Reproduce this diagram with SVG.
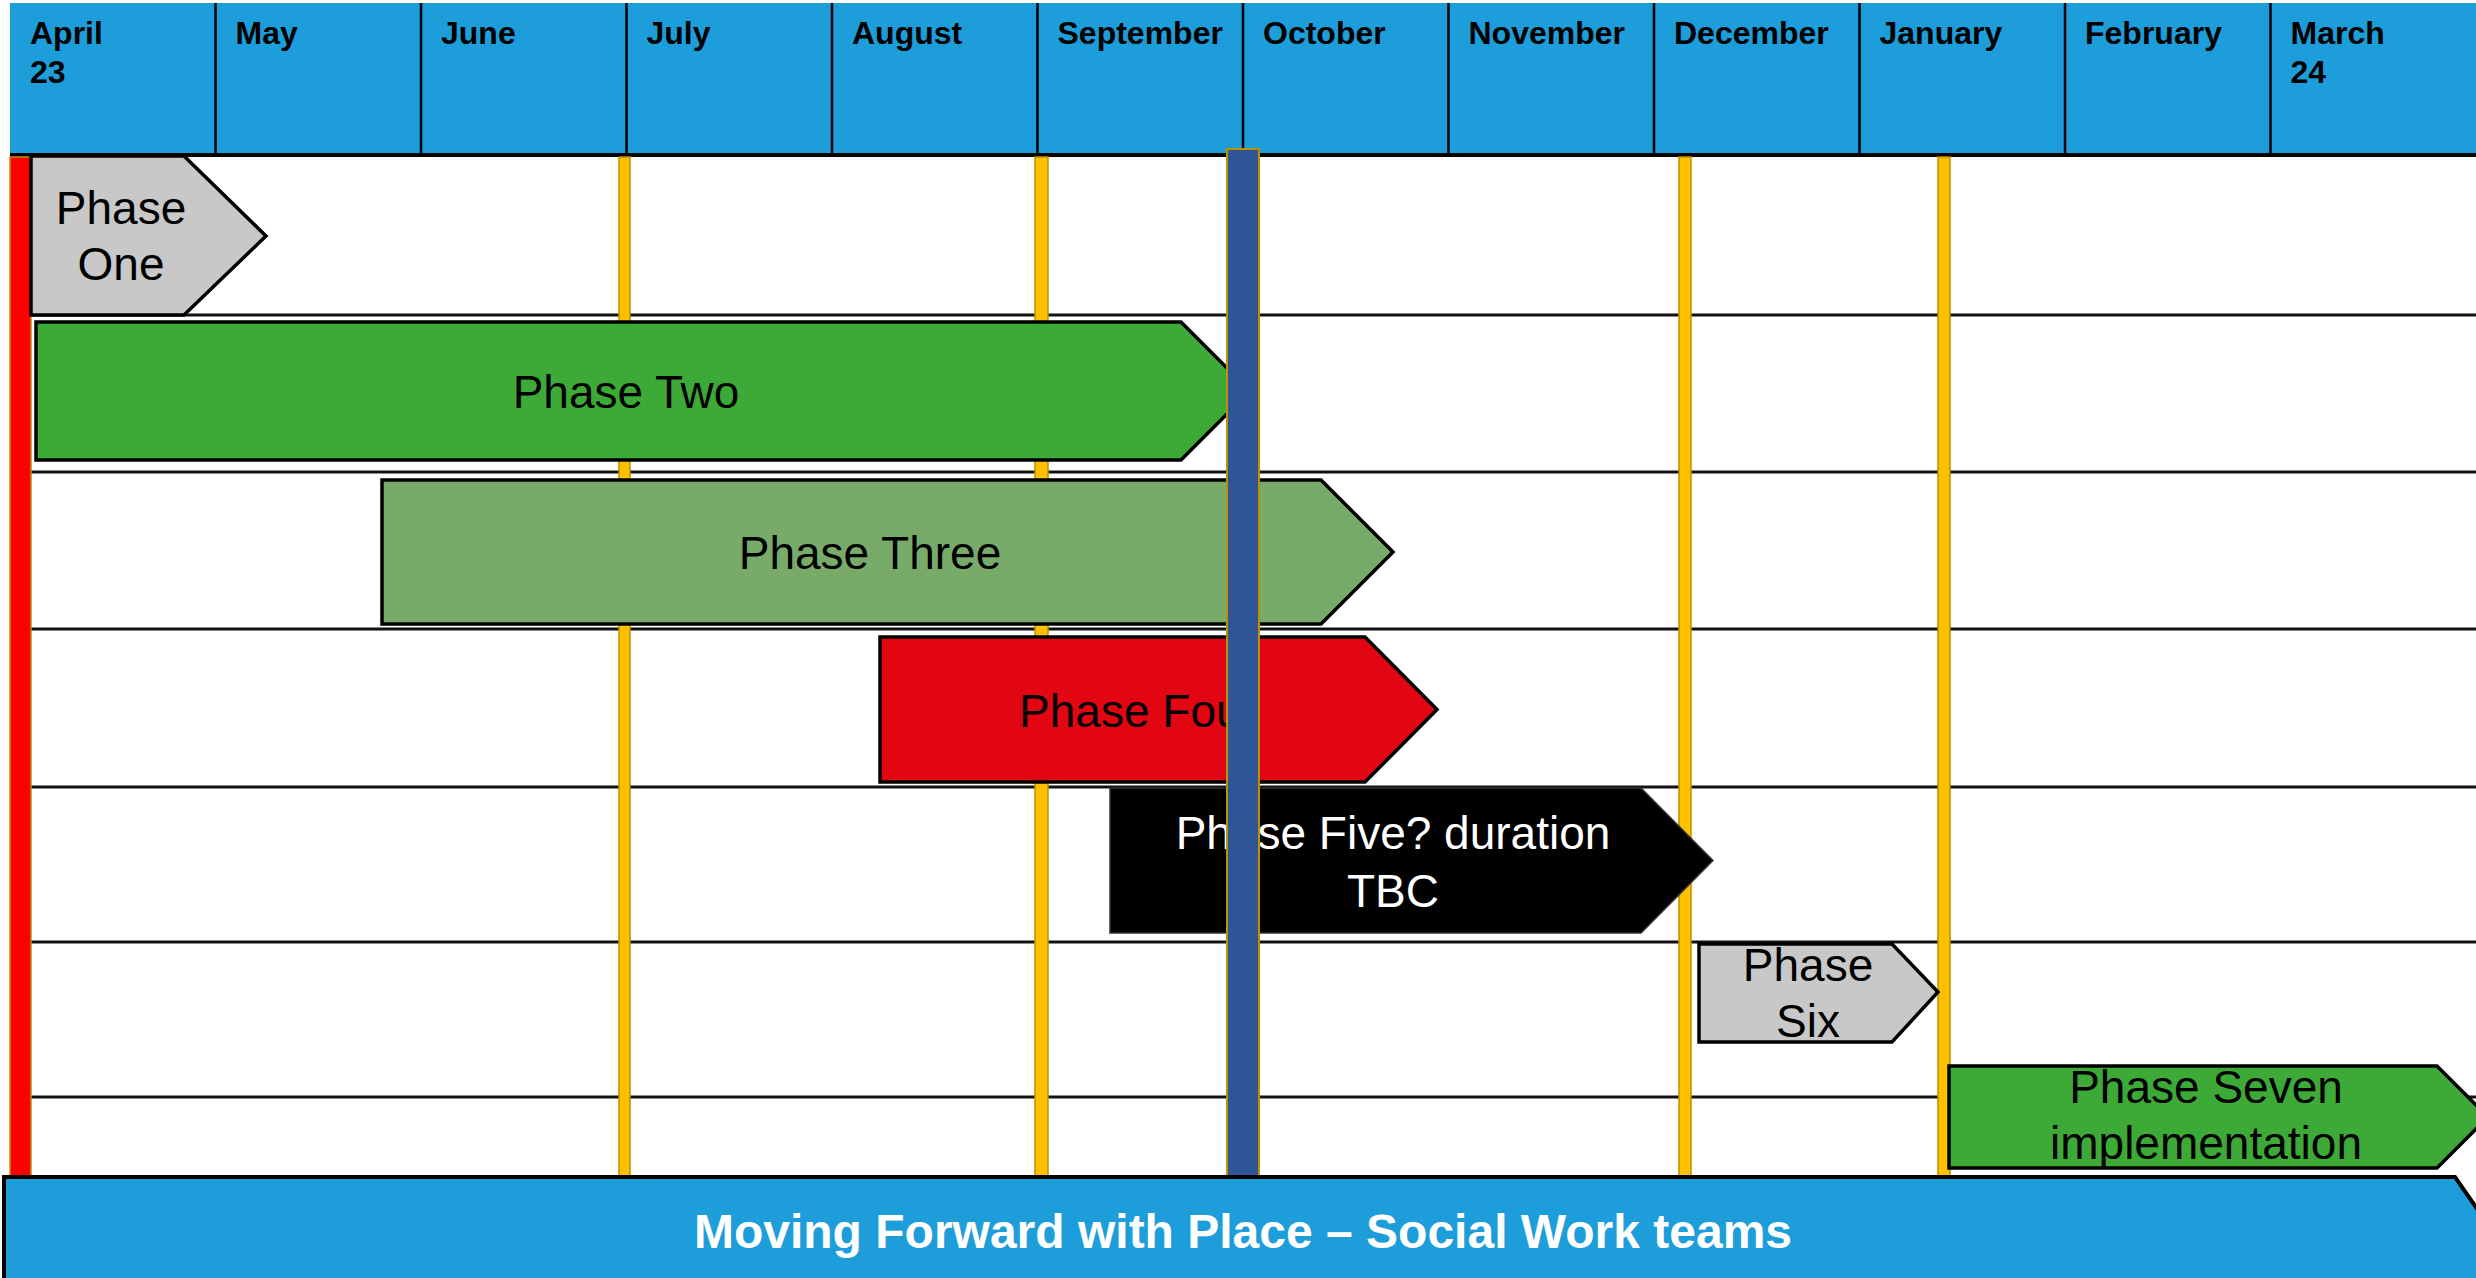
<svg xmlns="http://www.w3.org/2000/svg" width="2476" height="1278" viewBox="0 0 2476 1278">
<style>
.month{font-family:"Liberation Sans",Arial,sans-serif;font-weight:bold;font-size:32px;fill:#000}
.div{stroke:#000;stroke-width:2.5}
.row{stroke:#111;stroke-width:3}
.ph{stroke:#000;stroke-width:3.5;stroke-linejoin:miter}
.pt{font-family:"Liberation Sans",Arial,sans-serif;font-size:46px;fill:#000;text-anchor:middle}
.yb{fill:#FFC000;stroke:#BF9000;stroke-width:1.5}
</style>
<rect width="2476" height="1278" fill="#fff"/>
<g id="header">
<rect x="10" y="3" width="2466" height="151" fill="#1D9DD9"/>
<g class="div">
<line x1="215.5" y1="3" x2="215.5" y2="154"/><line x1="421" y1="3" x2="421" y2="154"/><line x1="626.5" y1="3" x2="626.5" y2="154"/><line x1="832" y1="3" x2="832" y2="154"/><line x1="1037.5" y1="3" x2="1037.5" y2="154"/><line x1="1243" y1="3" x2="1243" y2="154"/><line x1="1448.5" y1="3" x2="1448.5" y2="154"/><line x1="1654" y1="3" x2="1654" y2="154"/><line x1="1859.5" y1="3" x2="1859.5" y2="154"/><line x1="2065" y1="3" x2="2065" y2="154"/><line x1="2270.5" y1="3" x2="2270.5" y2="154"/>
</g>
<text class="month" x="30" y="44">April</text><text class="month" x="30" y="83">23</text>
<text class="month" x="235.5" y="44">May</text>
<text class="month" x="441" y="44">June</text>
<text class="month" x="646.5" y="44">July</text>
<text class="month" x="852" y="44">August</text>
<text class="month" x="1057.5" y="44">September</text>
<text class="month" x="1263" y="44">October</text>
<text class="month" x="1468.5" y="44">November</text>
<text class="month" x="1674" y="44">December</text>
<text class="month" x="1879.5" y="44">January</text>
<text class="month" x="2085" y="44">February</text>
<text class="month" x="2290.5" y="44">March</text><text class="month" x="2290.5" y="83">24</text>
</g>
<g id="grid">
<line x1="10" y1="155" x2="2476" y2="155" stroke="#000" stroke-width="4"/>
<line class="row" x1="10" y1="315" x2="2476" y2="315"/>
<line class="row" x1="10" y1="472" x2="2476" y2="472"/>
<line class="row" x1="10" y1="629" x2="2476" y2="629"/>
<line class="row" x1="10" y1="787" x2="2476" y2="787"/>
<line class="row" x1="10" y1="942" x2="2476" y2="942"/>
<line class="row" x1="10" y1="1097" x2="2476" y2="1097"/>
</g>
<g id="markers">
<rect id="start-marker" x="10" y="157" width="21" height="1019" fill="#FF0000" stroke="#BF9000" stroke-width="1.5"/>
<rect class="yb" x="619" y="157" width="11" height="1019"/>
<rect class="yb" x="1035" y="157" width="13" height="1019"/>
<rect class="yb" x="1679" y="157" width="12" height="1019"/>
<rect class="yb" x="1938" y="157" width="12" height="1019"/>
</g>
<g id="connectors"></g>
<g id="phase1">
<polygon class="ph" points="31,156 184,156 266,236 184,315 31,315" fill="#C8C8C8"/>
<text class="pt" x="121" y="224">Phase</text><text class="pt" x="121" y="280">One</text>
</g>
<g id="phase2">
<polygon class="ph" points="36,322 1181,322 1250,391 1181,460 36,460" fill="#3DAA38"/>
<text class="pt" x="626" y="408">Phase Two</text>
</g>
<g id="phase3">
<polygon class="ph" points="382,480 1321,480 1393,552 1321,624 382,624" fill="#78AB6A"/>
<text class="pt" x="870" y="569">Phase Three</text>
</g>
<g id="phase4">
<polygon class="ph" points="880,637 1365,637 1437,709.5 1365,782 880,782" fill="#E20613"/>
<text class="pt" x="1138" y="727">Phase Four</text>
</g>
<g id="phase5">
<polygon points="1110,788 1641,788 1713,860.5 1641,933 1110,933" fill="#000" stroke="#333" stroke-width="1.5"/>
<text class="pt" x="1393" y="849" fill="#fff" style="fill:#fff">Phase Five? duration</text>
<text class="pt" x="1393" y="907" style="fill:#fff">TBC</text>
</g>
<g id="phase6">
<polygon class="ph" points="1699,944 1892,944 1938,992 1892,1042 1699,1042" fill="#C8C8C8"/>
<text class="pt" x="1808" y="981">Phase</text><text class="pt" x="1808" y="1037">Six</text>
</g>
<g id="phase7">
<polygon class="ph" points="1949,1066 2437,1066 2488,1117 2437,1168 1949,1168" fill="#3DAA38"/>
<text class="pt" x="2206" y="1103">Phase Seven</text><text class="pt" x="2206" y="1159">implementation</text>
</g>
<g id="now-marker">
<rect x="1227" y="149" width="32" height="1027" fill="#2F5597" stroke="#BF9000" stroke-width="2"/>
</g>
<g id="footer">
<polygon points="4,1177 2455,1177 2530,1285 4,1285" fill="#1D9DD9" stroke="#000" stroke-width="4"/>
<text x="1243" y="1248" text-anchor="middle" font-family="'Liberation Sans',Arial,sans-serif" font-weight="bold" font-size="48" fill="#fff">Moving Forward with Place – Social Work teams</text>
</g>
</svg>
